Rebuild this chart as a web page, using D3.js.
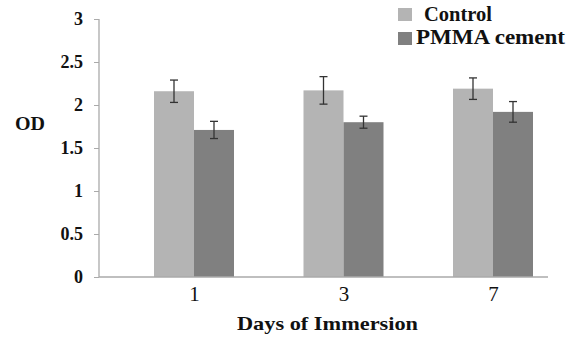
<!DOCTYPE html>
<html>
<head>
<meta charset="utf-8">
<script src="https://cdn.jsdelivr.net/npm/d3@7"></script>
</head>
<body style="margin:0;background:#fff">
<svg id="chart" width="571" height="338" font-family="Liberation Serif">
<text x="15" y="130" font-size="18" font-weight="bold" textLength="30" lengthAdjust="spacingAndGlyphs" fill="#111">OD</text>
<text x="237" y="330" font-size="19" font-weight="bold" textLength="181" lengthAdjust="spacingAndGlyphs" fill="#111">Days of Immersion</text>
</svg>
<script>
// Days of immersion and OD readings (mean ± SD)
const days = ["1", "3", "7"];
const seriesNames = ["Control", "PMMA cement"];
const controlValues = [2.16, 2.17, 2.19];
const controlErrors = [0.13, 0.16, 0.125];
const pmmaValues = [1.71, 1.80, 1.92];
const pmmaErrors = [0.10, 0.07, 0.12];
const yTicks = [0, 0.5, 1, 1.5, 2, 2.5, 3];

const colors = ["#b4b4b4", "#808080"];

const svg = d3.select("#chart");

const plot = { left: 99, right: 548, top: 19, bottom: 277 };

const x = d3.scalePoint().domain(days).range([194, 493]);
const y = d3.scaleLinear().domain([0, 3]).range([plot.bottom, plot.top]);
const barW = 40;

const rows = days.map((d, i) => ({
  day: d,
  vals: [
    { s: 0, v: controlValues[i], e: controlErrors[i] },
    { s: 1, v: pmmaValues[i], e: pmmaErrors[i] }
  ]
}));

// bars
const groups = svg.append("g").selectAll("g").data(rows).join("g");
groups.selectAll("rect").data(r => r.vals.map(v => ({ ...v, day: r.day }))).join("rect")
  .attr("x", d => x(d.day) + (d.s === 0 ? -barW : 0))
  .attr("y", d => y(d.v))
  .attr("width", barW)
  .attr("height", d => y(0) - y(d.v))
  .attr("fill", d => colors[d.s]);

// error bars
const eb = groups.selectAll("g.err").data(r => r.vals.map(v => ({ ...v, day: r.day }))).join("g")
  .attr("class", "err")
  .attr("stroke", "#333")
  .attr("stroke-width", 1.3);
const cx = d => x(d.day) + (d.s === 0 ? -barW / 2 : barW / 2);
eb.append("line").attr("x1", cx).attr("x2", cx)
  .attr("y1", d => y(d.v + d.e)).attr("y2", d => y(d.v - d.e));
eb.append("line").attr("x1", d => cx(d) - 4).attr("x2", d => cx(d) + 4)
  .attr("y1", d => y(d.v + d.e)).attr("y2", d => y(d.v + d.e));
eb.append("line").attr("x1", d => cx(d) - 4).attr("x2", d => cx(d) + 4)
  .attr("y1", d => y(d.v - d.e)).attr("y2", d => y(d.v - d.e));

// y axis
const yAxis = svg.append("g")
  .attr("transform", `translate(${plot.left},0)`)
  .call(d3.axisLeft(y).tickValues(yTicks).tickSize(5).tickPadding(11).tickFormat(d3.format("")));
yAxis.attr("font-family", null).attr("font-size", null);
yAxis.select(".domain").remove();
yAxis.selectAll(".tick line").attr("stroke", "#aaa");
yAxis.selectAll(".tick text")
  .attr("font-family", "Liberation Serif")
  .attr("font-size", 18).attr("font-weight", "bold")
  .attr("dy", "0.33em").attr("fill", "#111");
svg.append("line")
  .attr("x1", plot.left).attr("x2", plot.left)
  .attr("y1", y(3)).attr("y2", y(0))
  .attr("stroke", "#aaa").attr("stroke-width", 1.3);

// x axis
const xAxis = svg.append("g")
  .attr("transform", `translate(0,${plot.bottom})`)
  .call(d3.axisBottom(x).tickSize(0).tickPadding(9));
xAxis.attr("font-family", null).attr("font-size", null);
xAxis.select(".domain").remove();
xAxis.selectAll(".tick text")
  .attr("font-family", "Liberation Serif")
  .attr("font-size", 21).attr("fill", "#111");
svg.append("line")
  .attr("x1", plot.left).attr("x2", plot.right)
  .attr("y1", plot.bottom).attr("y2", plot.bottom)
  .attr("stroke", "#aaa").attr("stroke-width", 1.3);

// legend
const legend = [
  { name: seriesNames[0], sy: 8, tx: 424, ty: 21, w: 68 },
  { name: seriesNames[1], sy: 32, tx: 416, ty: 44, w: 149 }
];
const lg = svg.append("g").selectAll("g").data(legend).join("g");
lg.append("rect").attr("x", 398).attr("y", d => d.sy)
  .attr("width", 14).attr("height", 13).attr("fill", (d, i) => colors[i]);
lg.append("text").attr("x", d => d.tx).attr("y", d => d.ty)
  .attr("font-family", "Liberation Serif")
  .attr("font-size", 20).attr("font-weight", "bold").attr("fill", "#111")
  .attr("textLength", d => d.w).attr("lengthAdjust", "spacingAndGlyphs").text(d => d.name);
</script>
</body>
</html>
